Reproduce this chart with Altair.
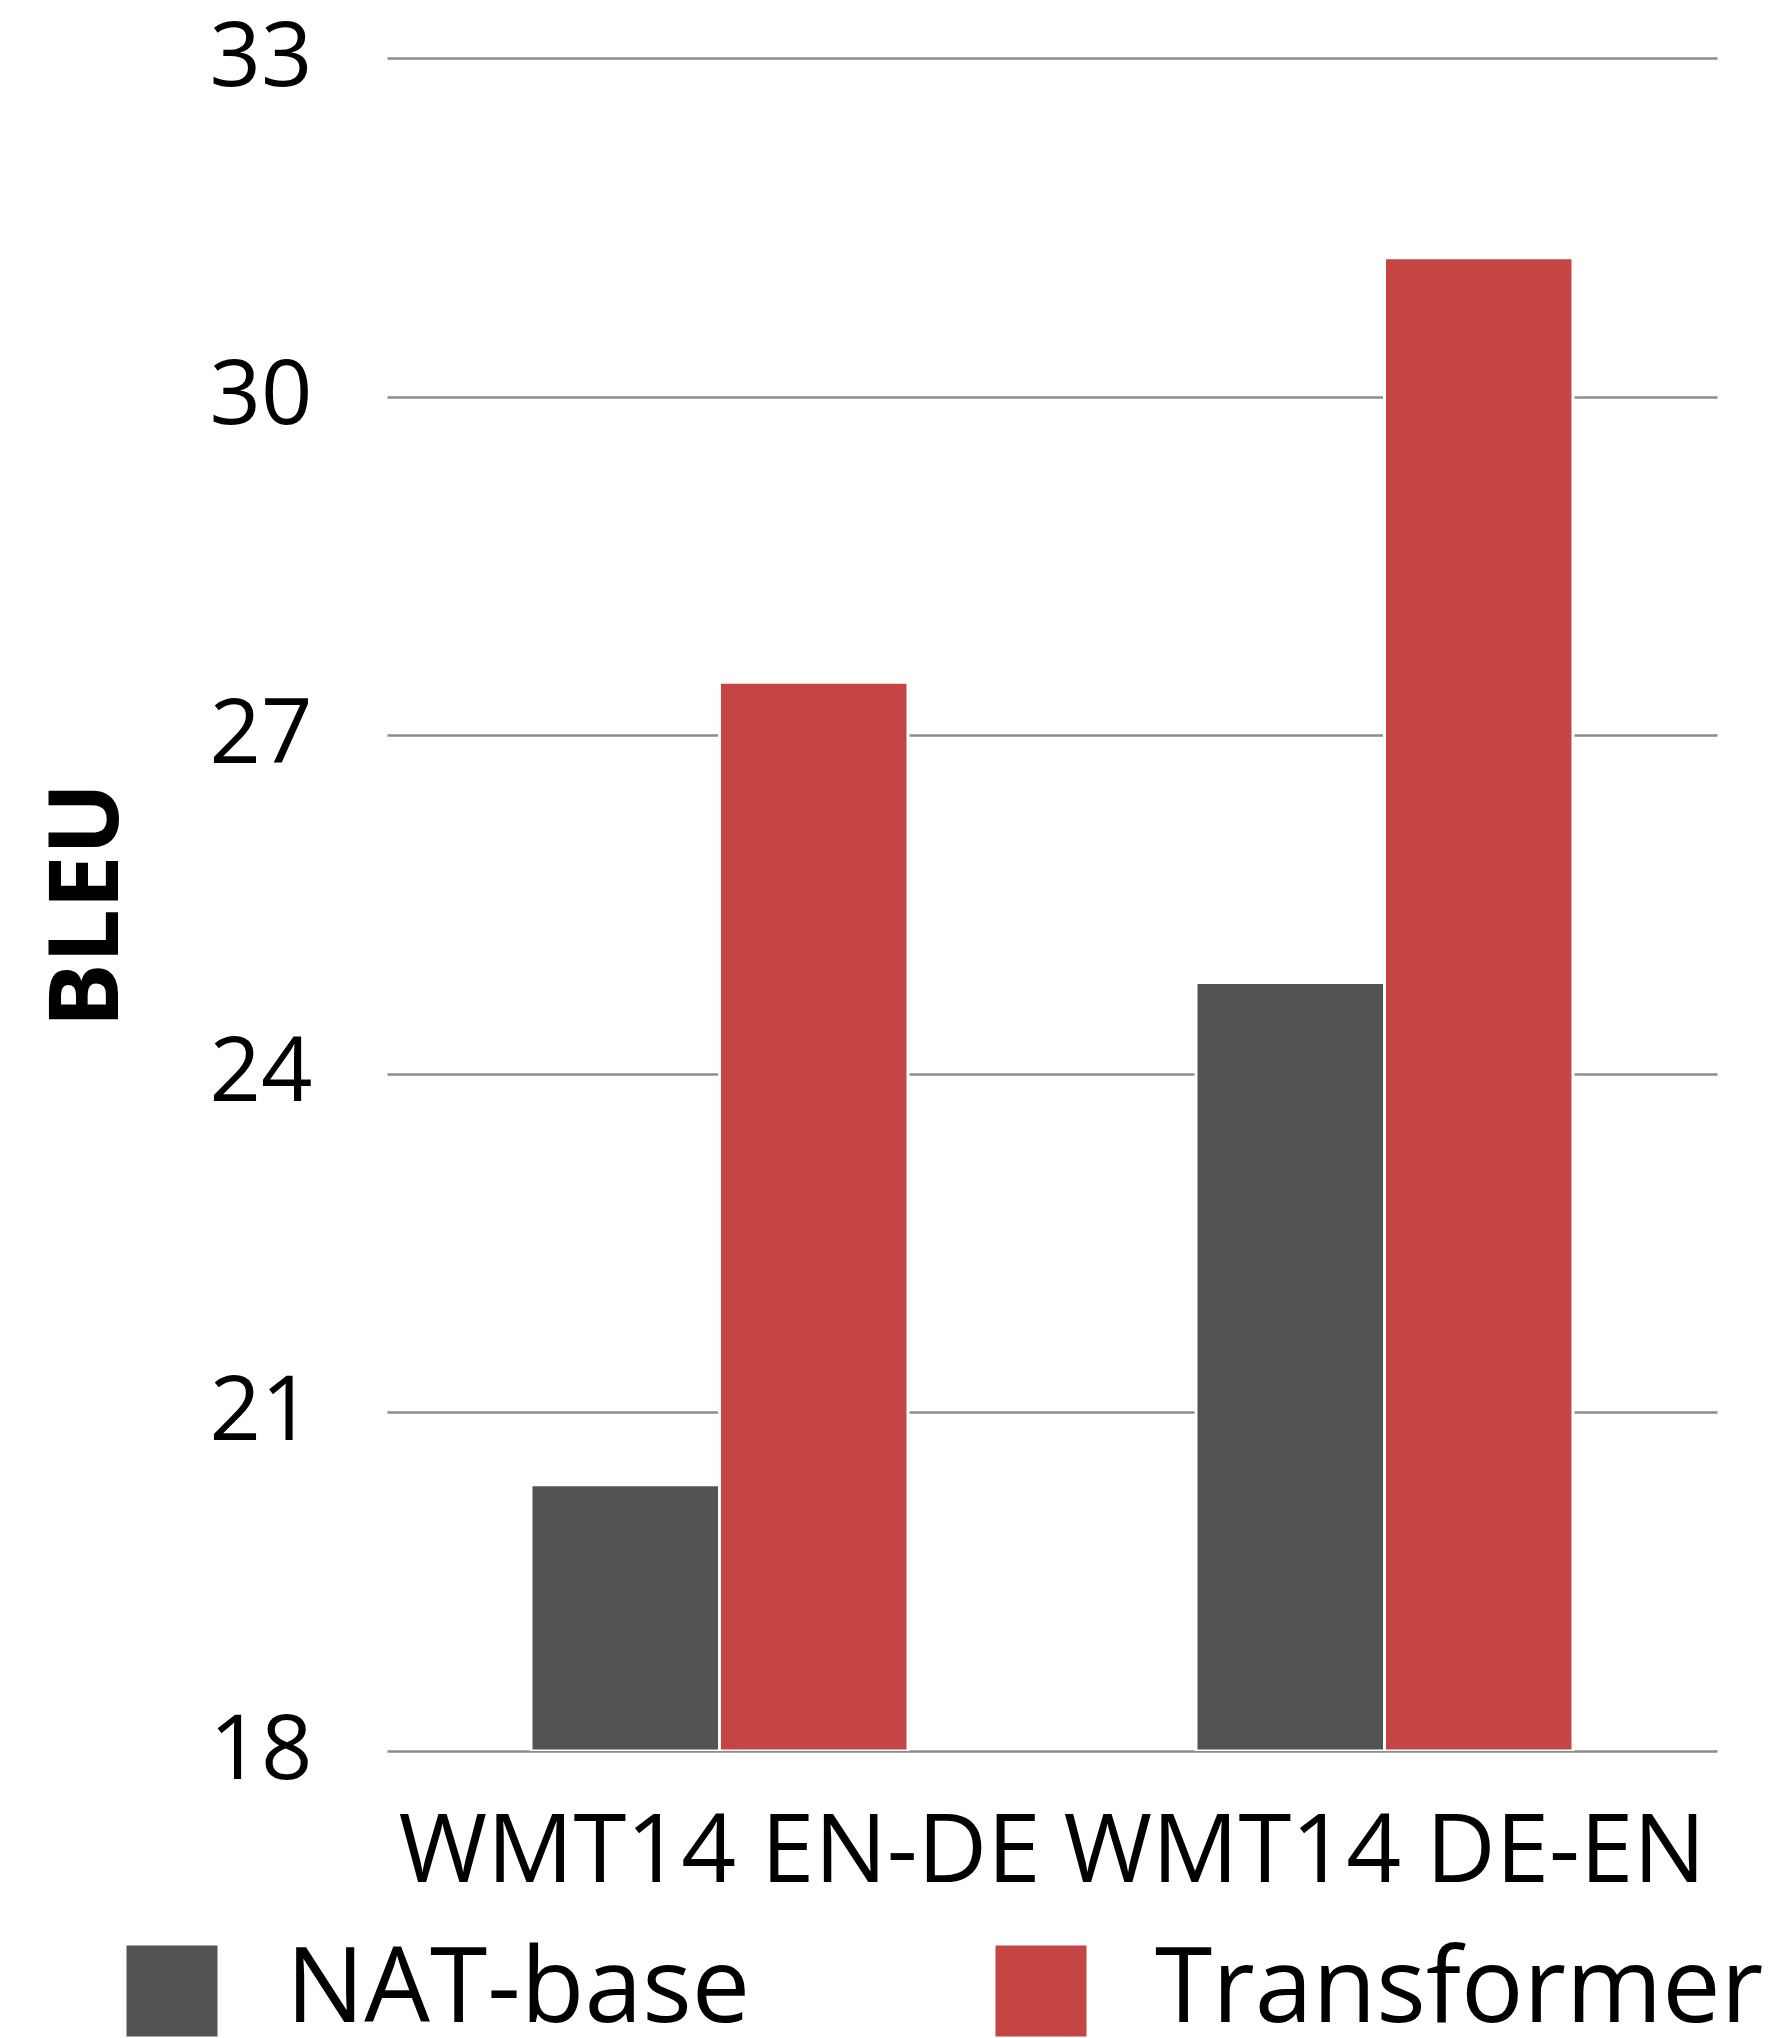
import altair as alt
import pandas as pd

datasets = ["WMT14 EN-DE", "WMT14 DE-EN"]
models = ["NAT-base", "Transformer"]
nat_base = [20.36, 24.81]
transformer = [27.47, 31.23]
y_ticks = [18, 21, 24, 27, 30, 33]
colors = ["#535353", "#C44544"]

rows = []
for i, d in enumerate(datasets):
    rows.append({"dataset": d, "model": models[0], "bleu": nat_base[i]})
    rows.append({"dataset": d, "model": models[1], "bleu": transformer[i]})
df = pd.DataFrame(rows)

FONT = "Open Sans"

chart = alt.Chart(df).mark_bar(stroke="white", strokeWidth=3, clip=True).encode(
    x=alt.X(
        "dataset:N",
        sort=datasets,
        scale=alt.Scale(paddingInner=0, paddingOuter=0),
        axis=alt.Axis(
            title=None, labelAngle=0, labelFontSize=96, labelFont=FONT,
            labelColor="black", labelPadding=130, ticks=False, tickSize=0,
            domain=False, labelLimit=2000, labelOverlap=False,
            labelBaseline="alphabetic", grid=False,
        ),
    ),
    xOffset=alt.XOffset(
        "model:N", sort=models,
        scale=alt.Scale(paddingInner=0, paddingOuter=0.764),
    ),
    y=alt.Y(
        "bleu:Q",
        scale=alt.Scale(domain=[18, 33], zero=False, nice=False),
        axis=alt.Axis(
            values=y_ticks, title="BLEU", labelFontSize=90, labelFont=FONT,
            labelColor="black", labelPadding=75, ticks=False, tickSize=0,
            domain=False, labelAlign="right", labelBaseline="middle",
            grid=True, gridColor="#8c8c8c", gridWidth=2.5,
            titleFont=FONT, titleFontSize=96, titleFontWeight="bold",
            titleColor="black", titleX=-299, titleY=846.6,
            titleAlign="center", titleBaseline="middle", titleAngle=270,
        ),
    ),
    y2=alt.datum(18),
    color=alt.Color(
        "model:N", sort=models,
        scale=alt.Scale(domain=models, range=colors),
        legend=alt.Legend(
            title=None, orient="none", legendX=-267, legendY=1881,
            direction="horizontal", symbolType="square", symbolSize=8281,
            symbolStrokeWidth=0, symbolOpacity=1, labelFontSize=104,
            labelFont=FONT, labelColor="black", labelOffset=62,
            columnPadding=238, labelLimit=2000, padding=0,
            labelBaseline="middle",
        ),
    ),
).properties(
    width=1330,
    height=1693,
    autosize=alt.AutoSizeParams(type="none"),
    padding={"left": 379, "top": 50, "right": 60, "bottom": 300},
    background="white",
).configure_view(stroke=None)

chart.save("out.html", embed_options={"renderer": "svg", "actions": False})
